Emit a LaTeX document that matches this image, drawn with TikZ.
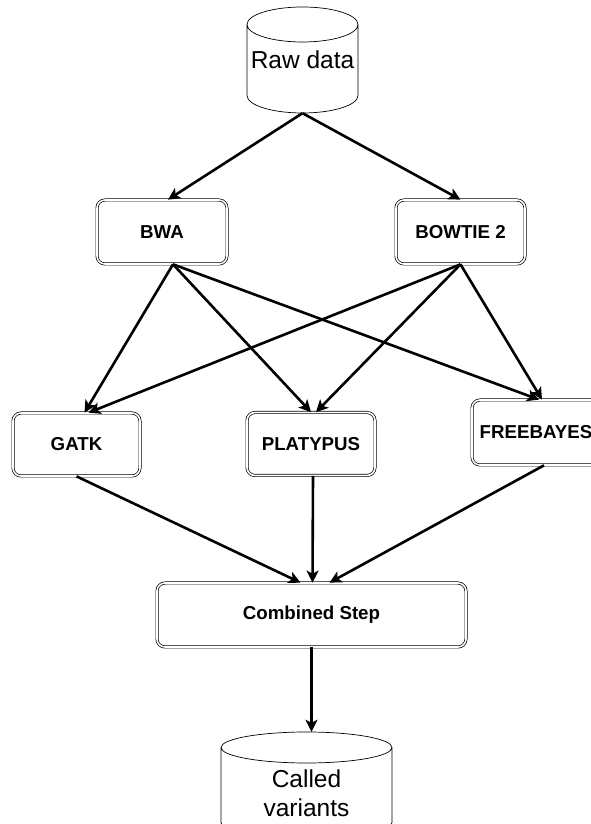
\documentclass[tikz,border=0pt]{standalone}
\usepackage{fontspec}
\setmainfont{Liberation Sans}
\usetikzlibrary{arrows.meta}

\tikzset{
  stepbox/.style={draw, double, double distance=1.6pt, line width=0.7pt,
    rounded corners=8pt, fill=white, font=\fontsize{18.7}{22}\selectfont\bfseries},
  storeline/.style={line width=0.7pt, fill=white},
  storetext/.style={align=center, font=\fontsize{24.5}{29}\selectfont},
  flow/.style={line width=2.6pt, -{Stealth[length=12pt,width=12pt,inset=3pt]}}
}

\begin{document}
\begin{tikzpicture}[x=1pt,y=1pt]
        \useasboundingbox (0,0) rectangle (591,824);                  %
        \draw [storeline] (247,799.5) arc[start angle=180, end angle=540, x radius=55.5, y radius=17.5]
              -- (247,728.5) arc[start angle=180, end angle=360, x radius=55.5, y radius=17.5]
              -- (358,799.5);                                         %input store
        \node [storetext, minimum width=111pt, minimum height=106pt]
              (raw)    at (302.5,764)  {Raw data};                    %
        \node [stepbox, minimum width=130pt, minimum height=64pt]
              (bwa)    at (162,592)    {BWA};                         %aligner
        \node [stepbox, minimum width=129pt, minimum height=64pt]
              (bowtie) at (460.5,592)  {BOWTIE 2};                    %aligner
        \node [stepbox, minimum width=127pt, minimum height=63pt]
              (gatk)   at (76.5,379.5) {GATK};                        %caller
        \node [stepbox, minimum width=128pt, minimum height=63pt]
              (platypus) at (311,380)  {PLATYPUS};                    %caller
        \node [stepbox, minimum width=128pt, minimum height=65pt]
              (freebayes) at (536,391.5) {FREEBAYES};                 %caller
        \node [stepbox, minimum width=309pt, minimum height=64pt]
              (comb)   at (311.5,209)  {Combined Step};               %
        \draw [storeline] (221,76.5) arc[start angle=180, end angle=540, x radius=85.5, y radius=15.5]
              -- (221,1.5) arc[start angle=180, end angle=360, x radius=85.5, y radius=15.5]
              -- (392,76.5);                                          %output store
        \node [storetext, minimum width=171pt, minimum height=122pt]
              (called) at (306.5,31)   {Called\\variants};            %

        \draw [flow] (raw.south) -- ([xshift=6pt]bwa.north);          %
        \draw [flow] (raw.south) -- (bowtie.north);                   %
        %\draw [flow] (bwa) -- (bowtie);                              %
        \draw [flow] ([xshift=11pt]bwa.south) -- ([xshift=8pt]gatk.north);
        \draw [flow] ([xshift=11pt]bwa.south) -- (platypus.north);    %
        \draw [flow] ([xshift=11pt]bwa.south) -- ([xshift=3pt]freebayes.north);
        \draw [flow] (bowtie.south) -- ([xshift=12pt]gatk.north);     %
        \draw [flow] (bowtie.south) -- ([xshift=5pt]platypus.north);  %
        \draw [flow] (bowtie.south) -- ([xshift=6pt]freebayes.north); %
        \draw [flow] (gatk.south) -- ([xshift=-11pt]comb.north);      %
        \draw [flow] ([xshift=2pt]platypus.south) -- ([xshift=1pt]comb.north);
        \draw [flow] ([xshift=8pt]freebayes.south) -- ([xshift=18pt]comb.north);
        \draw [flow] (comb.south) -- (comb.south |- called.north);    %
\end{tikzpicture}
\end{document}
